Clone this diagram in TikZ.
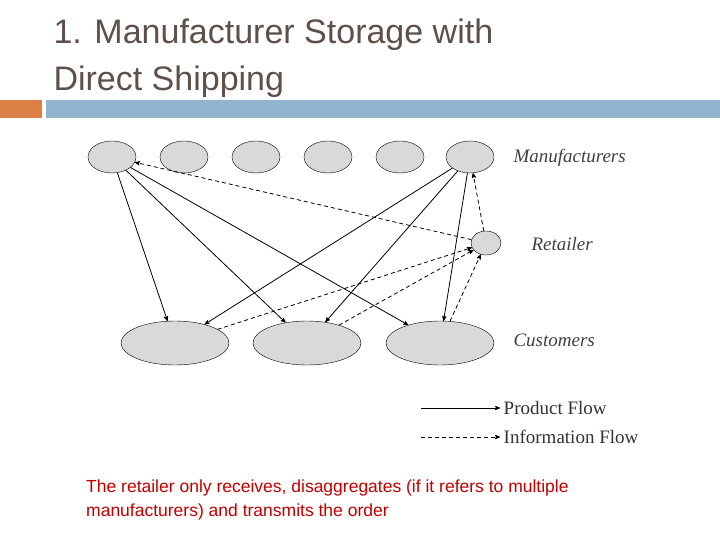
\documentclass[tikz,border=0pt]{standalone}
\usepackage{fontspec}
\setmainfont{Liberation Serif}
\newfontfamily\slidefont{Liberation Sans}
\usetikzlibrary{shapes.geometric,positioning,arrows}
\definecolor{titlegray}{RGB}{94,80,72}
\definecolor{barorange}{RGB}{221,128,71}
\definecolor{barblue}{RGB}{146,180,206}
\definecolor{notered}{RGB}{192,0,0}
\tikzset{
  mfr/.style={draw, fill=gray!30, ellipse, minimum width=48pt, minimum height=32pt, inner sep=0pt},
  cust/.style={mfr, minimum width=108pt, minimum height=44pt},
  ret/.style={mfr, minimum width=30pt, minimum height=24pt},
  lbl/.style={font=\fontsize{19}{22}\selectfont\itshape, text=black!75, anchor=west},
  prod/.style={-stealth', line width=0.8pt},
  info/.style={-stealth', line width=0.8pt, dash pattern=on 4pt off 3pt}
}
\begin{document}
\begin{tikzpicture}[x=1pt,y=-1pt]
\useasboundingbox (0,0) rectangle (720,540);
% header
\node[anchor=west, text=titlegray, font=\slidefont\fontsize{34}{38}\selectfont] at (50,35) {1. Manufacturer Storage with};
\node[anchor=west, text=titlegray, font=\slidefont\fontsize{34}{38}\selectfont] at (50,82) {Direct Shipping};
\fill[barorange] (0,100) rectangle (42,118);
\fill[barblue] (46,100) rectangle (720,118);
% manufacturers
\foreach \i/\x in {1/112,2/184,3/256,4/328,5/400,6/470}
  \node[mfr] (m\i) at (\x,157) {};
\node[ret] (r) at (486,243) {};
\foreach \i/\x in {1/175,2/307,3/440}
  \node[cust] (c\i) at (\x,343) {};
\node[lbl] at (510,158) {Manufacturers};
\node[lbl] at (528,244) {Retailer};
\node[lbl] at (510,340) {Customers};
% product flow
\foreach \i in {1,2,3} {
  \draw[prod] (m1) -- (c\i);
  \draw[prod] (m6) -- (c\i);
}
% information flow
\foreach \i in {1,2,3}
  \draw[info] (c\i) -- (r);
\draw[info] (r) -- (m1);
\draw[info] (r) -- (m6);
% legend
\coordinate (p1) at (421,408);
\coordinate (p2) at (500,408);
\coordinate (i1) at (421,437);
\coordinate (i2) at (500,437);
\draw[prod] (p1) -- (p2) node[right, font=\fontsize{19}{22}\selectfont, text=black!80] {Product Flow};
\draw[info] (i1) -- (i2) node[right, font=\fontsize{19}{22}\selectfont, text=black!80] {Information Flow};
% note
\node[anchor=north west, align=left, inner sep=0pt, text=notered, font=\slidefont\fontsize{17.5}{24}\selectfont] at (86,480)
  {The retailer only receives, disaggregates (if it refers to multiple\\manufacturers) and transmits the order};
\end{tikzpicture}
\end{document}
